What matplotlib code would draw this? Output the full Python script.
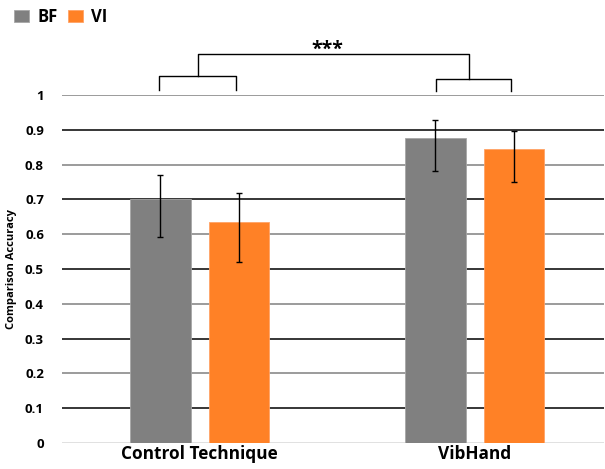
import matplotlib
matplotlib.use("Agg")
import matplotlib.pyplot as plt
import numpy as np

# data
groups = ["Control Technique", "VibHand"]
series = ["BF", "VI"]
bf_mean = [0.70, 0.876]
vi_mean = [0.635, 0.845]
bf_err_low = [0.108, 0.094]
bf_err_high = [0.070, 0.052]
vi_err_low = [0.115, 0.095]
vi_err_high = [0.083, 0.052]
yticks = [0, 0.1, 0.2, 0.3, 0.4, 0.5, 0.6, 0.7, 0.8, 0.9, 1]
sig_label = "***"

plt.rcParams['font.family'] = ['Open Sans', 'DejaVu Sans']

fig = plt.figure(figsize=(6.05, 4.69), dpi=100)
ax = fig.add_axes([62/605, 1 - 443/469, (604-62)/605, (443-95)/469])

x = np.arange(len(groups))
w = 0.221
off = 0.143
gray = "#808080"
orange = "#FF8126"

b1 = ax.bar(x - off, bf_mean, w, color=gray, edgecolor="#a6a6a6", lw=0.6, label=series[0], zorder=3)
b2 = ax.bar(x + off, vi_mean, w, color=orange, edgecolor="#ffa366", lw=0.6, label=series[1], zorder=3)
ax.errorbar(x - off, bf_mean, yerr=[bf_err_low, bf_err_high], fmt="none",
            ecolor="black", elinewidth=1, capsize=2.5, capthick=1, zorder=4)
ax.errorbar(x + off, vi_mean, yerr=[vi_err_low, vi_err_high], fmt="none",
            ecolor="black", elinewidth=1, capsize=2.5, capthick=1, zorder=4)

# horizontal gridlines (alternating shade like the source image)
for i, t in enumerate(yticks):
    if i == 0:
        c = "#d9d9d9"
    elif i % 2 == 1:
        c = "black"
    else:
        c = gray
    ax.axhline(t, color=c, lw=1.1, zorder=1)

ax.set_xlim(-0.501, 1.470)
ax.set_ylim(0, 1)
ax.set_yticks(yticks)
ax.set_yticklabels([f"{t:g}" for t in yticks], fontsize=9.5, fontweight="bold")
ax.set_xticks(x)
ax.set_xticklabels(groups, fontsize=12.4, fontweight="bold")
ax.tick_params(length=0, pad=13, axis="y")
ax.tick_params(length=0, pad=1.5, axis="x")
for s in ax.spines.values():
    s.set_visible(False)
ax.set_ylabel("Comparison Accuracy", fontsize=8, fontweight="bold")
ax.yaxis.set_label_coords(-0.083, 0.5)

# significance brackets
kw = dict(color="black", lw=1, clip_on=False)
for gi, (top, leg) in enumerate([(1.055, 1.014), (1.046, 1.011)]):
    xl = x[gi] - off - 0.006 + (0.008 if gi else 0)
    xr = x[gi] + off - 0.012
    ax.plot([xl, xl, xr, xr], [leg, top, top, leg], **kw)
ax.plot([x[0] - 0.007, x[0] - 0.007, x[1] - 0.02, x[1] - 0.02],
        [1.055, 1.118, 1.118, 1.046], **kw)
ax.text((x[0] + x[1]) / 2 - 0.035, 1.102, sig_label, ha="center", va="bottom",
        fontsize=14, fontweight="bold")

leg = fig.legend(handles=[b1, b2], loc="upper left", bbox_to_anchor=(0.007, 1.005),
                 ncol=2, frameon=False, prop=dict(size=12, weight="bold"),
                 handlelength=0.9, handleheight=0.7, handletextpad=0.5,
                 columnspacing=0.6, borderaxespad=0.2)

fig.savefig("out.png", dpi=100)
